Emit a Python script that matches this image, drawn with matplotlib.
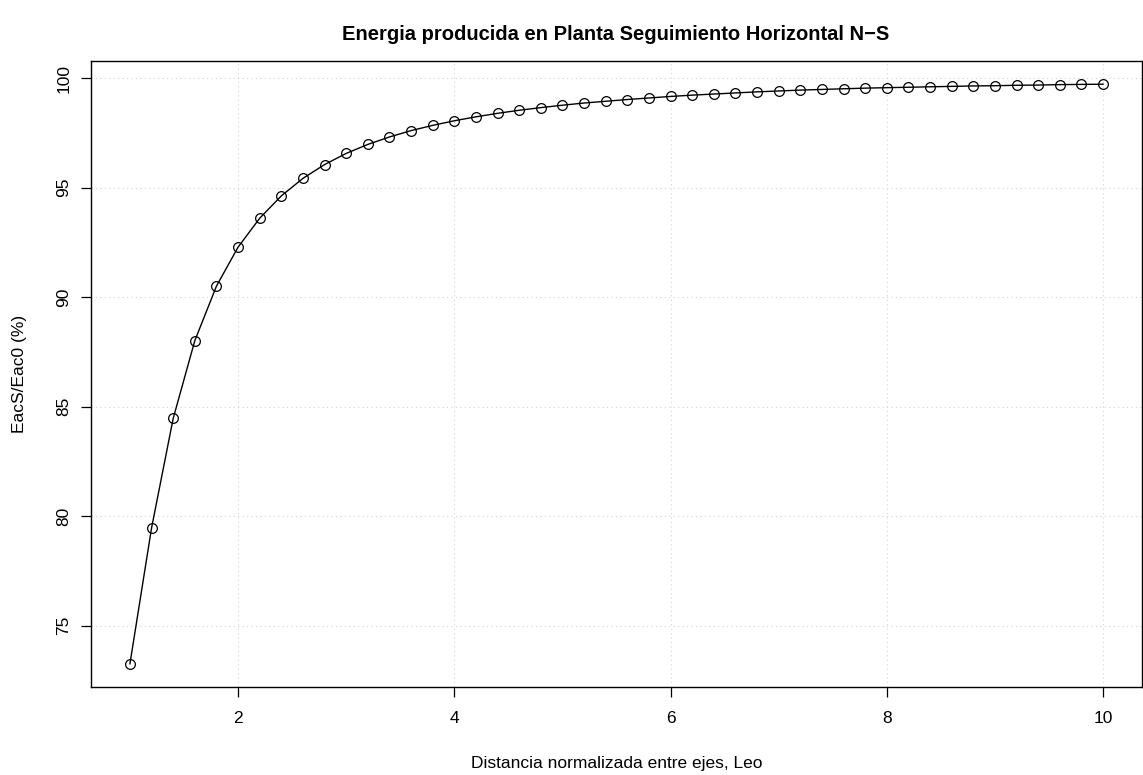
import numpy as np
import matplotlib
matplotlib.use("Agg")
import matplotlib.pyplot as plt

plt.rcParams['font.family'] = ['Liberation Sans', 'DejaVu Sans']

# distancia normalizada entre ejes
leo = [1.0, 1.2, 1.4, 1.6, 1.8, 2.0, 2.2, 2.4, 2.6, 2.8,
       3.0, 3.2, 3.4, 3.6, 3.8, 4.0, 4.2, 4.4, 4.6, 4.8,
       5.0, 5.2, 5.4, 5.6, 5.8, 6.0, 6.2, 6.4, 6.6, 6.8,
       7.0, 7.2, 7.4, 7.6, 7.8, 8.0, 8.2, 8.4, 8.6, 8.8,
       9.0, 9.2, 9.4, 9.6, 9.8, 10.0]
# EacS/Eac0 (%)
eac = [73.26, 79.46, 84.46, 88.01, 90.50, 92.28, 93.60, 94.62, 95.42, 96.05,
       96.56, 96.97, 97.31, 97.60, 97.84, 98.05, 98.23, 98.39, 98.53, 98.65,
       98.76, 98.86, 98.94, 99.02, 99.09, 99.16, 99.22, 99.27, 99.32, 99.37,
       99.41, 99.45, 99.48, 99.51, 99.54, 99.56, 99.58, 99.60, 99.62, 99.64,
       99.65, 99.67, 99.68, 99.70, 99.71, 99.72]

xticks = [2, 4, 6, 8, 10]
yticks = [75, 80, 85, 90, 95, 100]

fig = plt.figure(figsize=(11.43, 7.75), dpi=100)
ax = fig.add_axes([91/1143, 1 - 687/775, 1051/1143, 626/775])

ax.plot(leo, eac, color='black', lw=1.0, marker='o', markersize=7,
        markerfacecolor='none', markeredgecolor='black', markeredgewidth=0.9)

# extension 4% estilo R
xr = max(leo) - min(leo)
yr = max(eac) - min(eac)
ax.set_xlim(min(leo) - 0.04 * xr, max(leo) + 0.04 * xr)
ax.set_ylim(min(eac) - 0.04 * yr, max(eac) + 0.04 * yr)

ax.set_xticks(xticks)
ax.set_yticks(yticks)
ax.set_yticklabels([str(v) for v in yticks], rotation=90, va='center')
ax.tick_params(direction='out', length=7, width=0.9, labelsize=12.5, pad=10, colors='black')
ax.tick_params(axis='y', pad=7)

ax.grid(True, color='lightgray', linestyle=(0, (1, 3)), linewidth=0.8)
ax.set_axisbelow(True)
for s in ax.spines.values():
    s.set_linewidth(1.0)

ax.set_xlabel('Distancia normalizada entre ejes, Leo', fontsize=12.5, labelpad=22)
ax.set_ylabel('EacS/Eac0 (%)', fontsize=12.5, labelpad=21)
fig.text(616/1143, 1 - 35/775, 'Energia producida en Planta Seguimiento Horizontal N\u2212S',
         ha='center', va='center', fontsize=14.5, fontweight='bold')

fig.savefig('out.png', dpi=100)
